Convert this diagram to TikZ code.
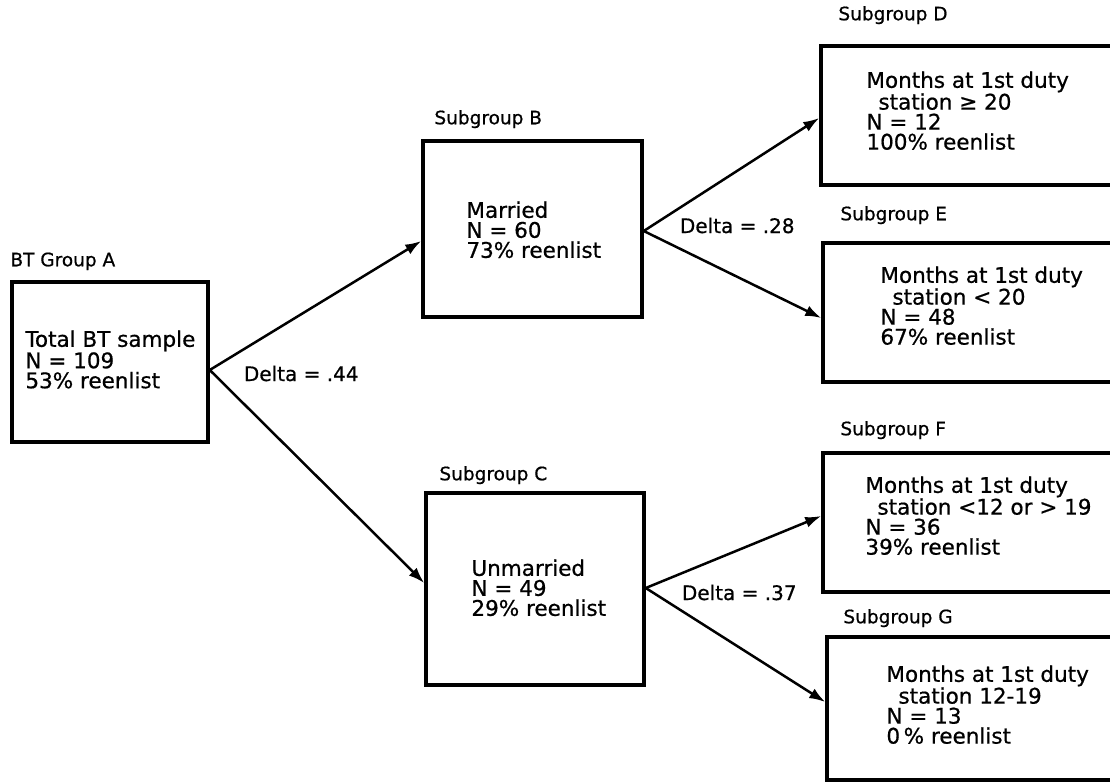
\documentclass[tikz,border=0pt]{standalone}
\usepackage{fontspec}
\setmainfont{DejaVu Sans}[BoldFont=DejaVu Sans, BoldFeatures={FakeBold=0.7}]
\usetikzlibrary{arrows.meta}

\begin{document}
\begin{tikzpicture}[x=1pt,y=-1pt,
    grpbox/.style={draw, line width=3.5pt, inner sep=0pt},
    grptext/.style={anchor=north west, align=left, inner sep=0pt, font=\fontsize{21.5}{20}\selectfont\bfseries},
    grplabel/.style={anchor=base west, inner sep=0pt, font=\fontsize{18.5}{20}\selectfont\bfseries},
    deltalabel/.style={anchor=base west, inner sep=0pt, font=\fontsize{20}{20}\selectfont\bfseries},
    split/.style={line width=2.5pt, -{Latex[length=16pt,width=11pt]}}]
        \useasboundingbox (0,0) rectangle (1110,782);
        \clip (0,0) rectangle (1110,782);
        % Draw the boxes
        \node[grpbox, minimum width=196pt, minimum height=160pt] (grpA) at (110,362) {};
        \node[grpbox, minimum width=219pt, minimum height=176pt] (grpB) at (532.5,229) {};
        \node[grpbox, minimum width=218pt, minimum height=192pt] (grpC) at (535,589) {};
        \node[grpbox, minimum width=330pt, minimum height=139pt] (grpD) at (986,115.5) {};
        \node[grpbox, minimum width=330pt, minimum height=139pt] (grpE) at (988,312.5) {};
        \node[grpbox, minimum width=330pt, minimum height=139pt] (grpF) at (988,522.5) {};
        \node[grpbox, minimum width=330pt, minimum height=143pt] (grpG) at (992,708.5) {};
        % Write the group names
        \node[grplabel] (labA) at ([shift={(0,-14)}]grpA.north west) {BT Group A};
        \node[grplabel] (labB) at ([shift={(13,-15)}]grpB.north west) {Subgroup B};
        \node[grplabel] (labC) at ([shift={(15,-11)}]grpC.north west) {Subgroup C};
        \node[grplabel] (labD) at ([shift={(19,-24)}]grpD.north west) {Subgroup D};
        \node[grplabel] (labE) at ([shift={(19,-21)}]grpE.north west) {Subgroup E};
        \node[grplabel] (labF) at ([shift={(19,-16)}]grpF.north west) {Subgroup F};
        \node[grplabel] (labG) at ([shift={(18,-12)}]grpG.north west) {Subgroup G};
        % Write the box contents
        \node[grptext] (txtA) at ([shift={(15,50)}]grpA.north west) {Total BT sample\\N = 109\\53\% reenlist};
        \node[grptext] (txtB) at ([shift={(45,62)}]grpB.north west) {Married\\N = 60\\73\% reenlist};
        \node[grptext] (txtC) at ([shift={(47,68)}]grpC.north west) {Unmarried\\N = 49\\29\% reenlist};
        \node[grptext] (txtD) at ([shift={(47,27)}]grpD.north west) {Months at 1st duty\\\hspace*{12pt}station ≥ 20\\N = 12\\100\% reenlist};
        \node[grptext] (txtE) at ([shift={(59,25)}]grpE.north west) {Months at 1st duty\\\hspace*{12pt}station < 20\\N = 48\\67\% reenlist};
        \node[grptext] (txtF) at ([shift={(44,25)}]grpF.north west) {Months at 1st duty\\\hspace*{12pt}station <12 or > 19\\N = 36\\39\% reenlist};
        \node[grptext] (txtG) at ([shift={(61,30)}]grpG.north west) {Months at 1st duty\\\hspace*{12pt}station 12-19\\N = 13\\0\,\% reenlist};
        % Split points
        \coordinate (outA) at ([shift={(0,8)}]grpA.east);
        \coordinate (outB) at ([shift={(0,2)}]grpB.east);
        \coordinate (outC) at ([shift={(0,-1)}]grpC.east);
        % Draw the splits
        \draw[split] (outA) -- ([shift={(0,12)}]grpB.west);
        \draw[split] (outA) -- ([shift={(0,-6)}]grpC.west);
        \draw[split] (outB) -- ([shift={(0,2.5)}]grpD.west);
        \draw[split] (outB) -- ([shift={(0,5.5)}]grpE.west);
        \draw[split] (outC) -- ([shift={(0,-6.5)}]grpF.west);
        \draw[split] (outC) -- ([shift={(0,-6.5)}]grpG.west);
        % Write the deltas
        \node[deltalabel] (delA) at ([shift={(34,11)}]outA) {Delta = .44};
        \node[deltalabel] (delB) at ([shift={(36,2)}]outB) {Delta = .28};
        \node[deltalabel] (delC) at ([shift={(36,12)}]outC) {Delta = .37};
    \end{tikzpicture}
\end{document}
